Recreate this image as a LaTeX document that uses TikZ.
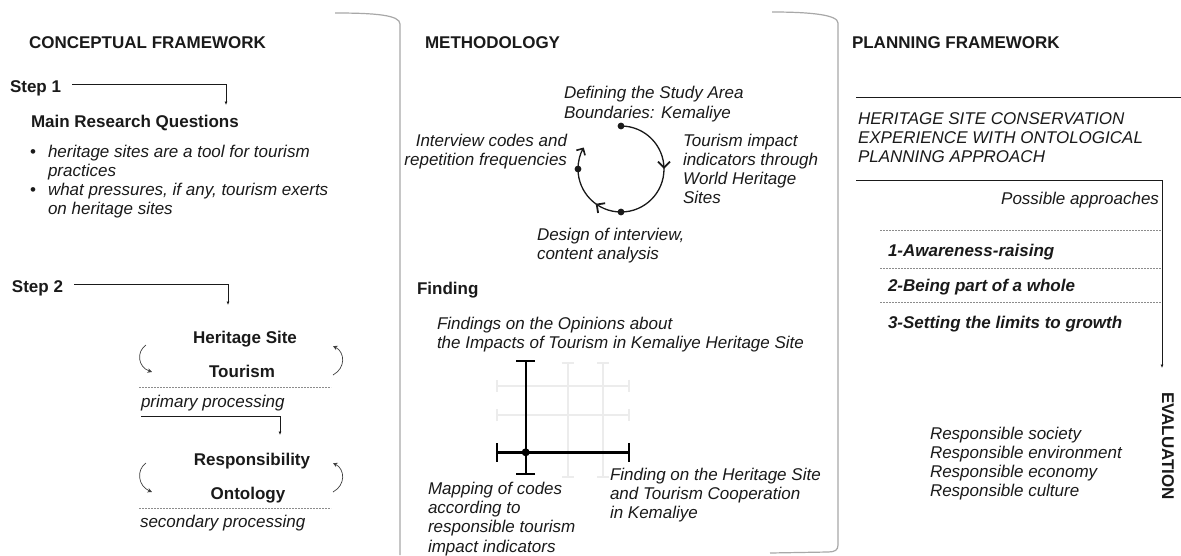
\documentclass[tikz,border=0pt]{standalone}
\usepackage{fontspec}
\setmainfont{Liberation Sans}
\usetikzlibrary{arrows.meta,decorations.markings,calc}
\definecolor{txt}{HTML}{1A1A1A}
\definecolor{divc}{HTML}{A8A8A8}
\definecolor{faint}{HTML}{ECECEC}
\begin{document}
\begin{tikzpicture}[x=1pt,y=-1pt,
  every node/.style={inner sep=0pt, outer sep=0pt, text=txt, font=\fontsize{17}{19.3}\selectfont},
  ttl/.style={anchor=base west, font=\fontsize{17}{19.3}\selectfont\bfseries},
  itl/.style={anchor=base west, align=left, font=\fontsize{17}{19.3}\selectfont\itshape},
  bit/.style={anchor=base west, font=\fontsize{17}{19.3}\selectfont\bfseries\itshape},
  arr/.style={-{Latex[length=3.5pt,width=3pt]}, line width=0.7pt, draw=txt},
  thinl/.style={line width=0.7pt, draw=txt},
  carr/.style={-{Stealth[length=4.5pt,width=4.5pt]}, line width=0.7pt, draw=black!75},
  divline/.style={draw=divc, line width=1.2pt},
  dsh/.style={draw=black!45, dash pattern=on 2pt off 1pt, line width=0.6pt},
  circ/.style={line width=1.3pt, draw=txt},
  crs/.style={line width=2.4pt, draw=black, {Bar[width=19pt,length=1pt]}-{Bar[width=19pt,length=1pt]}},
  fnt/.style={line width=2pt, draw=faint, {Bar[width=12pt,length=1pt]}-{Bar[width=12pt,length=1pt]}},
  chev/.style={decoration={markings,
      mark=at position 0.333 with {\arrow{Straight Barb[length=6pt,width=12pt,line width=1.8pt]}},
      mark=at position 0.80 with {\arrow{Straight Barb[length=6pt,width=12pt,line width=1.8pt]}}},
      postaction=decorate}
]
\fill[white] (0,0) rectangle (1181,555);
\useasboundingbox (0,0) rectangle (1181,555);

% ---------- dividers ----------
\draw[divline] (335,13) .. controls (375,13) and (400,15) .. (400,24) -- (400,555);
\draw[divline] (772,12) .. controls (812,12) and (838,15) .. (838,23) -- (838,545)
   .. controls (838,550) and (835,552) .. (828,552) -- (770,553);

% ---------- conceptual framework ----------
\node[ttl] (cf) at (29,48) {CONCEPTUAL FRAMEWORK};
\node[ttl] (s1) at (10,92) {Step 1};
\coordinate (s1end) at (226,105);
\draw[arr] ($(s1.base east)+(11,-8)$) -| (s1end);
\node[ttl] (mrq) at (31,127) {Main Research Questions};
\node[anchor=base west] (b1) at (30,157) {\textbullet};
\node[itl] (q1) at (48,176.3) {heritage sites are a tool for tourism\\practices};
\node[anchor=base west] (b2) at (30,195) {\textbullet};
\node[itl] (q2) at (48,214.3) {what pressures, if any, tourism exerts\\on heritage sites};

\node[ttl] (s2) at (12,292) {Step 2};
\coordinate (s2end) at (228,305);
\draw[arr] ($(s2.base east)+(11,-8)$) -| (s2end);
\node[ttl,anchor=base] (hs) at (245,343) {Heritage Site};
\node[ttl,anchor=base] (tou) at (242,377) {Tourism};
\draw[carr] (146,345) .. controls (136,352) and (138,367) .. (152,372);
\draw[carr] (333,375) .. controls (346,368) and (345,352) .. (333,346);
\draw[dsh] (139,387) -- (331,387);
\node[itl] (pp) at (141,407) {primary processing};
\coordinate (ppend) at (280,435);
\draw[arr] ($(pp.base west)+(0,9)$) -| (ppend);
\node[ttl,anchor=base] (resp) at (252,465) {Responsibility};
\node[ttl,anchor=base] (ont) at (248,499) {Ontology};
\draw[carr] (146,463) .. controls (136,470) and (138,486) .. (152,492);
\draw[carr] (333,492) .. controls (346,485) and (345,469) .. (333,463);
\draw[dsh] (139,508) -- (331,508);
\node[itl] (sp) at (140,527) {secondary processing};

% ---------- methodology ----------
\node[ttl] (meth) at (425,48) {METHODOLOGY};
\coordinate (cc) at (621,169);
\coordinate (ctop) at ($(cc)+(-90:43)$);
\coordinate (cbot) at ($(cc)+(90:43)$);
\coordinate (cleft) at ($(cc)+(180:43)$);
\draw[circ,chev] (ctop) arc[start angle=-90, end angle=180, radius=43];
\draw[circ,-{Straight Barb[length=5pt,width=10pt,line width=1.6pt]}] (cleft) arc[start angle=180, end angle=210, radius=43];
\fill[txt] (ctop) circle[radius=3.4pt];
\fill[txt] (cbot) circle[radius=3.4pt];
\fill[txt] (cleft) circle[radius=3.4pt];
\node[itl] (def) at (564,118) {Defining the Study Area\\Boundaries: Kemaliye};
\node[itl,anchor=base east,align=right] (int) at (567,165.3) {Interview codes and\\repetition frequencies};
\node[itl] (tim) at (683,203.9) {Tourism impact\\indicators through\\World Heritage\\Sites};
\node[itl] (des) at (537,259.3) {Design of interview,\\content analysis};

\node[ttl] (fnd) at (417,294) {Finding};
\node[itl] (fop) at (437,348.3) {Findings on the Opinions about\\the Impacts of Tourism in Kemaliye Heritage Site};
% faint grid
\draw[fnt] (567.7,362) -- (567.7,478);
\draw[fnt] (603.3,362) -- (603.3,478);
\draw[fnt] (495.7,385.7) -- (630,385.7);
\draw[fnt] (495.7,415) -- (630,415);
% cross
\coordinate (o) at (525.7,452.3);
\draw[crs] (525.7,360) -- (525.7,475);
\draw[crs] (495.7,452.3) -- (630,452.3);
\fill[black] (o) circle[radius=4pt];
\node[itl] (map) at (428,552) {Mapping of codes\\according to\\responsible tourism\\impact indicators};
\node[itl] (fhs) at (610,518.6) {Finding on the Heritage Site\\and Tourism Cooperation\\in Kemaliye};

% ---------- planning framework ----------
\node[ttl] (pf) at (852,48) {PLANNING FRAMEWORK};
\coordinate (l1a) at (856,97);
\coordinate (l1b) at (1181,97);
\draw[thinl] (l1a) -- (l1b);
\node[itl] (hsc) at (858,162.6) {HERITAGE SITE CONSERVATION\\EXPERIENCE WITH ONTOLOGICAL\\PLANNING APPROACH};
\coordinate (evs) at (856,180);
\coordinate (evt) at (1162,368);
\draw[arr] (evs) -| (evt);
\node[itl,anchor=base east] (pa) at (1159,204) {Possible approaches};
\draw[dsh] (880,230) -- (1161,230);
\node[bit] (a1) at (888,256) {1-Awareness-raising};
\draw[dsh] (880,268) -- (1161,268);
\node[bit] (a2) at (888,291) {2-Being part of a whole};
\draw[dsh] (880,302) -- (1161,302);
\node[bit] (a3) at (888,328) {3-Setting the limits to growth};
\node[font=\fontsize{17}{19.3}\selectfont\bfseries, anchor=center, rotate=-90] (ev) at (1168,446) {EVALUATION};
\node[itl] (rs) at (930,496.9) {Responsible society\\Responsible environment\\Responsible economy\\Responsible culture};
\end{tikzpicture}
\end{document}
